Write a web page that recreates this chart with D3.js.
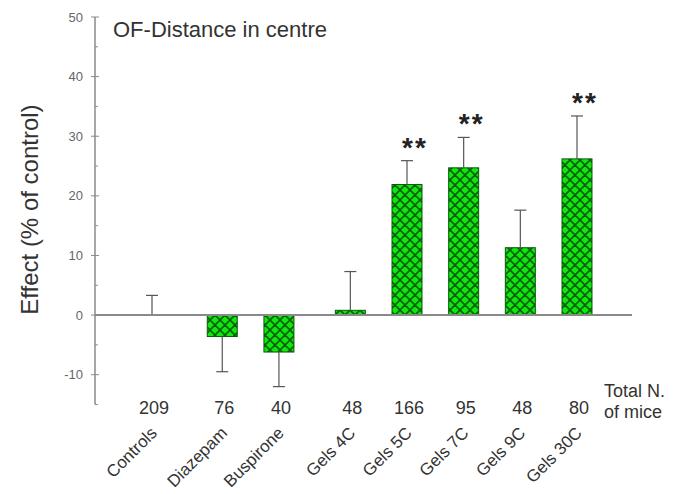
<!DOCTYPE html>
<html>
<head>
<meta charset="utf-8">
<script src="https://cdn.jsdelivr.net/npm/d3@7"></script>
<style>
  body { margin: 0; background: #fff; }
  svg { display: block; font-family: Arial, "Liberation Sans", sans-serif; }
</style>
</head>
<body>
<svg id="chart" width="677" height="494"></svg>
<script>
// groups in plotting order, with x slot (data units as in the original plot)
const groups = ["Controls", "Diazepam", "Buspirone", "Gels 4C", "Gels 5C", "Gels 7C", "Gels 9C", "Gels 30C"];
const slots = [0, 1.24, 2.24, 3.5, 4.5, 5.5, 6.5, 7.5];
const effects = [0, -3.6, -6.2, 0.8, 21.9, 24.7, 11.3, 26.2];
const errors = [3.3, 5.9, 5.8, 6.5, 4.0, 5.1, 6.3, 7.2];
const nMice = [209, 76, 40, 48, 166, 95, 48, 80];
const signif = ["", "", "", "", "**", "**", "", "**"];
const yTicks = [-10, 0, 10, 20, 30, 40, 50];

const svg = d3.select("#chart");
const axisColor = "#8a8a8a";

const y = d3.scaleLinear().domain([-15, 50]).range([404.5, 17]);
const x = d3.scaleLinear().domain([0, 7.5]).range([152, 577]);
const barW = 30;

// cross-hatch fill
const defs = svg.append("defs");
const pat = defs.append("pattern")
  .attr("id", "xhatch")
  .attr("patternUnits", "userSpaceOnUse")
  .attr("width", 10).attr("height", 10);
pat.append("rect").attr("width", 10).attr("height", 10).attr("fill", "#0ee80e");
pat.append("path")
  .attr("d", "M0,0 L10,10 M10,0 L0,10 M-5,5 L5,15 M5,-5 L15,5 M-5,5 L5,-5 M5,15 L15,5")
  .attr("stroke", "#0b5e0b").attr("stroke-width", 1.6);

// y axis
const yAxisX = 95;
svg.append("line")
  .attr("x1", yAxisX).attr("x2", yAxisX)
  .attr("y1", y(50)).attr("y2", y(-15))
  .attr("stroke", axisColor).attr("stroke-width", 1.5);

const minor = d3.range(-15, 51, 5).filter(v => v % 10 !== 0);
svg.selectAll(".minor").data(minor).enter().append("line")
  .attr("x1", yAxisX).attr("x2", yAxisX + 3)
  .attr("y1", d => y(d)).attr("y2", d => y(d))
  .attr("stroke", axisColor);

svg.selectAll(".major").data(yTicks).enter().append("line")
  .attr("x1", yAxisX - 4).attr("x2", yAxisX + 4)
  .attr("y1", d => y(d)).attr("y2", d => y(d))
  .attr("stroke", axisColor);

svg.selectAll(".ytl").data(yTicks).enter().append("text")
  .attr("x", yAxisX - 12).attr("y", d => y(d) + 4.5)
  .attr("text-anchor", "end")
  .attr("font-size", 13).attr("fill", "#666")
  .text(d => d);

svg.append("text")
  .attr("transform", "translate(38," + y(17.7) + ") rotate(-90)")
  .attr("text-anchor", "middle")
  .attr("font-size", 24).attr("fill", "#333")
  .text("Effect (% of control)");

// title
svg.append("text")
  .attr("x", 113).attr("y", 37)
  .attr("font-size", 22).attr("fill", "#333")
  .text("OF-Distance in centre");

// bars
const data = groups.map((g, i) => ({
  g: g, s: slots[i], v: effects[i], e: errors[i], n: nMice[i], sig: signif[i]
}));

svg.selectAll(".bar").data(data.filter(d => d.v !== 0)).enter().append("rect")
  .attr("x", d => x(d.s) - barW / 2)
  .attr("y", d => y(Math.max(0, d.v)))
  .attr("width", barW)
  .attr("height", d => Math.abs(y(d.v) - y(0)))
  .attr("fill", "url(#xhatch)")
  .attr("stroke", "#0b5a0b").attr("stroke-width", 1);

// error bars (one-sided, away from zero)
const tip = d => d.v >= 0 ? d.v + d.e : d.v - d.e;
svg.selectAll(".err").data(data).enter().append("line")
  .attr("x1", d => x(d.s)).attr("x2", d => x(d.s))
  .attr("y1", d => y(d.v)).attr("y2", d => y(tip(d)))
  .attr("stroke", "#555").attr("stroke-width", 1.2);
svg.selectAll(".cap").data(data).enter().append("line")
  .attr("x1", d => x(d.s) - 6).attr("x2", d => x(d.s) + 6)
  .attr("y1", d => y(tip(d))).attr("y2", d => y(tip(d)))
  .attr("stroke", "#555").attr("stroke-width", 1.2);

// zero line
svg.append("line")
  .attr("x1", yAxisX).attr("x2", 632)
  .attr("y1", y(0)).attr("y2", y(0))
  .attr("stroke", axisColor).attr("stroke-width", 2);

// significance stars
svg.selectAll(".sig").data(data.filter(d => d.sig)).enter().append("text")
  .attr("x", d => x(d.s) + 8)
  .attr("y", d => y(tip(d)) - 4)
  .attr("text-anchor", "middle")
  .attr("font-size", 28).attr("font-weight", "bold")
  .attr("letter-spacing", 2).attr("fill", "#222")
  .text(d => d.sig);

// number of mice
svg.selectAll(".nlab").data(data).enter().append("text")
  .attr("x", d => x(d.s) + 2)
  .attr("y", 414)
  .attr("text-anchor", "middle")
  .attr("font-size", 18).attr("fill", "#333")
  .text(d => d.n);

svg.append("text").attr("x", 604).attr("y", 397)
  .attr("font-size", 18).attr("fill", "#333").text("Total N.");
svg.append("text").attr("x", 604).attr("y", 418)
  .attr("font-size", 18).attr("fill", "#333").text("of mice");

// rotated group labels
svg.selectAll(".glab").data(data).enter().append("text")
  .attr("transform", d => "translate(" + (x(d.s) + 6) + ",434) rotate(-45)")
  .attr("text-anchor", "end")
  .attr("font-size", 17).attr("fill", "#333")
  .text(d => d.g);
</script>
</body>
</html>
